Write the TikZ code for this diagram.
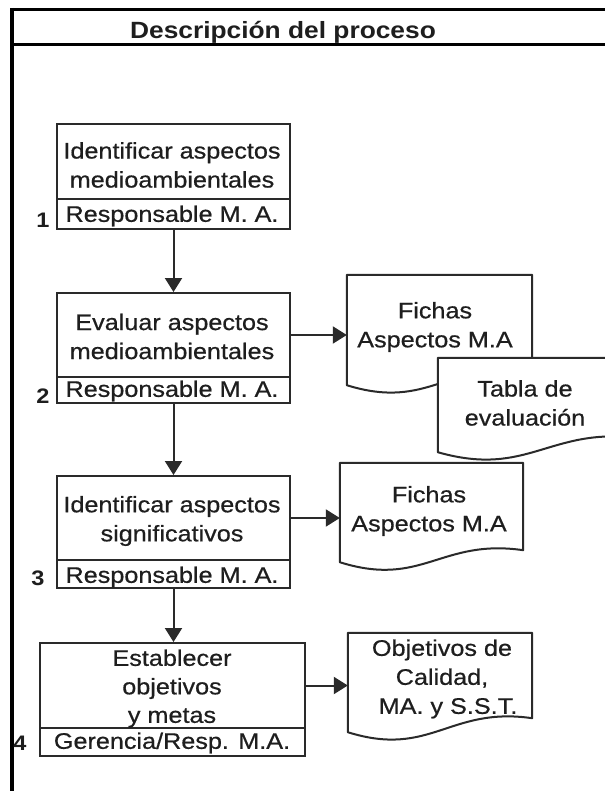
\documentclass[tikz,border=0pt]{standalone}
\usepackage{fontspec}
\setmainfont{Liberation Sans}[FakeStretch=1.12]
\newfontfamily\heavy{Liberation Sans}[FakeStretch=1.12, FakeBold=0.6]
\usetikzlibrary{arrows.meta,calc}
\definecolor{ink}{HTML}{1E1E1E}
\definecolor{edge}{HTML}{2A2A2A}
\tikzset{
  every node/.style={text=ink, font=\heavy\fontsize{22.5}{29}\selectfont},
  upbox/.style={draw=edge, line width=2pt, inner sep=0pt, minimum width=233pt},
  respbox/.style={draw=edge, line width=2pt, inner sep=0pt, minimum width=233pt},
  boxtext/.style={align=center, inner sep=0pt},
  docnode/.style={inner sep=0pt, draw=none},
  doctext/.style={align=center, inner sep=0pt},
  numlabel/.style={font=\fontsize{21}{24}\selectfont\bfseries, inner sep=0pt},
  arr/.style={draw=edge, line width=2pt, -{Triangle[width=17pt,length=14pt]}},
  docline/.style={draw=edge, line width=2pt, line join=round},
  frameline/.style={draw=black, line width=3pt}
}
\newcommand{\docpath}[2]{%
  \draw[docline, fill=white] (#1.north west) -- (#1.north east) -- ([yshift=#2pt]#1.south east)
    .. controls ($(#1.south west)!0.55!(#1.south east)+(0pt,#2pt+12pt)$)
    and ($(#1.south west)!0.45!(#1.south east)+(0pt,-26pt)$) .. (#1.south west) -- cycle;}
\begin{document}
\begin{tikzpicture}[x=1pt,y=-1pt]
\useasboundingbox[fill=white] (0,0) rectangle (604,791);
% frame
\draw[frameline] (12,10) -- (606,10);
\draw[frameline] (12,45) -- (606,45);
\draw[draw=black, line width=4pt] (12,8) -- (12,793);
\node[font=\fontsize{23.5}{29}\selectfont\bfseries] (title) at (283,32) {Descripción del proceso};

% process boxes
\node[upbox, minimum height=75pt] (b1) at (173.5,161.5) {};
\node[respbox, minimum height=30pt] (r1) at (173.5,214) {};
\node[upbox, minimum height=84pt] (b2) at (173.5,335) {};
\node[respbox, minimum height=26pt] (r2) at (173.5,390) {};
\node[upbox, minimum height=84pt] (b3) at (173.5,518) {};
\node[respbox, minimum height=28pt] (r3) at (173.5,574) {};
\node[upbox, minimum width=265pt, minimum height=85pt] (b4) at (172.5,685.5) {};
\node[respbox, minimum width=265pt, minimum height=28pt] (r4) at (172.5,742) {};

% box texts
\node[boxtext] (tb1) at (172,165) {Identificar aspectos\\medioambientales};
\node[boxtext] (tr1) at (172,216) {Responsable M. A.};
\node[boxtext] (tb2) at (172,336.5) {Evaluar aspectos\\medioambientales};
\node[boxtext] (tr2) at (172,391) {Responsable M. A.};
\node[boxtext] (tb3) at (172,521) {Identificar aspectos\\significativos};
\node[boxtext] (tr3) at (172,577) {Responsable M. A.};
\node[boxtext, font=\heavy\fontsize{22.5}{28.5}\selectfont] (tb4) at (172,688.5) {Establecer\\objetivos\\y metas};
\node[boxtext] (tr4) at (172,743) {Gerencia/Resp. M.A.};

% numbers
\node[numlabel] (n1) at (43,220) {1};
\node[numlabel] (n2) at (43,396) {2};
\node[numlabel] (n3) at (38,578) {3};
\node[numlabel] (n4) at (20,743) {4};

% documents
\node[docnode, minimum width=185pt, minimum height=110pt] (d1) at (439.5,330) {};
\docpath{d1}{14}
\node[docnode, minimum width=202pt, minimum height=94pt] (d2) at (539,405) {};
\docpath{d2}{14}
\node[docnode, minimum width=183pt, minimum height=99pt] (d3) at (431.5,512.5) {};
\docpath{d3}{12}
\node[docnode, minimum width=184pt, minimum height=99pt] (d4) at (440,682.5) {};
\docpath{d4}{14}

\node[doctext] (t1) at (435,327) {Fichas\\Aspectos M.A};
\node[doctext] (t2) at (525,403) {Tabla de\\evaluación};
\node[doctext] (t3) at (429,511) {Fichas\\Aspectos M.A};
\node[doctext] (t4) at (442,679) {Objetivos de\\Calidad,\\\hspace*{12pt}MA. y S.S.T.};

% connectors
\draw[arr] (r1.south) -- (b2.north);
\draw[arr] (r2.south) -- (b3.north);
\draw[arr] (r3.south) -- (b4.north -| r3.south);
\draw[arr] (b2.east) -- (b2.east -| d1.west);
\draw[arr] (b3.east) -- (b3.east -| d3.west);
\draw[arr] (b4.east) -- (b4.east -| d4.west);
\end{tikzpicture}
\end{document}
